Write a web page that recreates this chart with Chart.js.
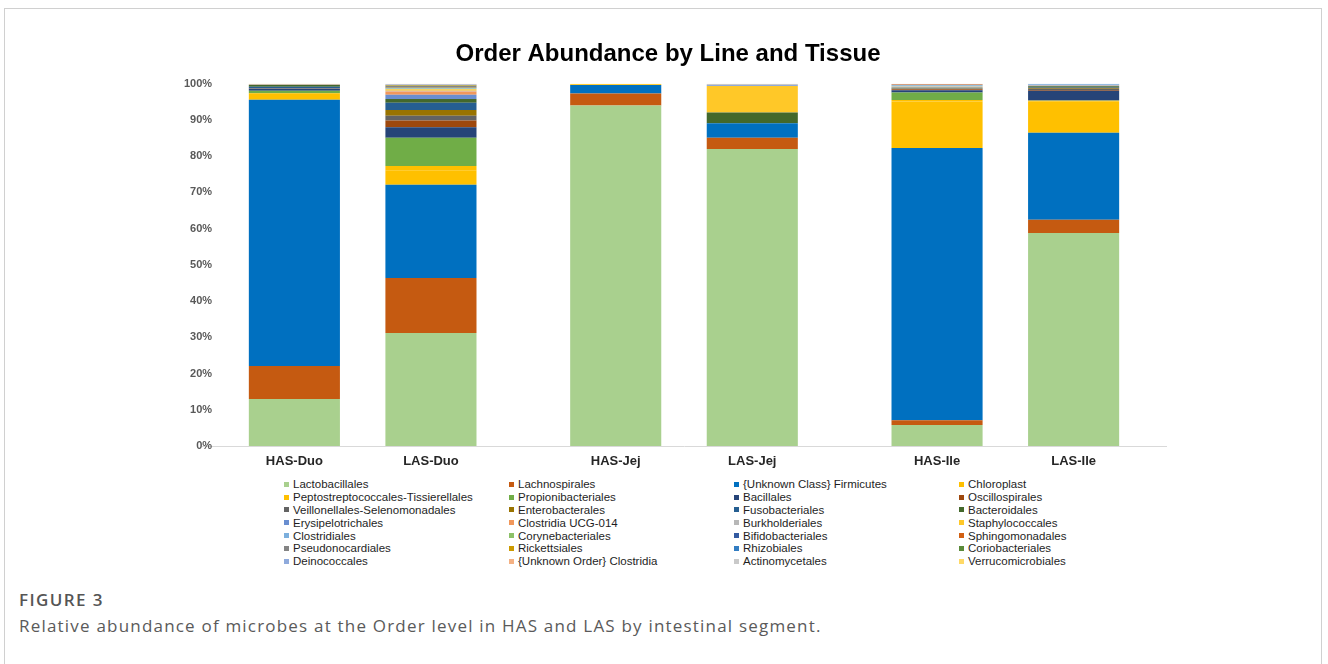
<!DOCTYPE html>
<html>
<head>
<meta charset="utf-8">
<title>Order Abundance by Line and Tissue</title>
<script src="https://cdn.jsdelivr.net/npm/chart.js@4.4.1/dist/chart.umd.min.js"></script>
<style>
    body { margin: 0; background: #fff; font-family: "Liberation Sans", Arial, sans-serif; }
    #marco { position: absolute; left: 4px; top: 8px; width: 1316px; height: 700px; border: 1px solid #d0d0d0; }
    #grafico { position: absolute; left: 0; top: 0; width: 1328px; height: 476px; }
    #leyenda { position: absolute; left: 284px; top: 478px; display: grid; grid-template-columns: repeat(4, 225px); }
    .item { height: 12.8px; font-size: 11.5px; color: #1e1e1e; white-space: nowrap; display: flex; align-items: center; }
    .caja { width: 5px; height: 5px; margin-right: 4px; flex: none; }
    #figura { position: absolute; left: 19px; top: 588px; font-family: "Open Sans", sans-serif; font-weight: 600; font-size: 17px; letter-spacing: 1.4px; color: #555; }
    #pie { position: absolute; left: 19px; top: 614px; font-family: "Open Sans", sans-serif; font-size: 17px; letter-spacing: 1.2px; color: #5a5a5a; }
</style>
</head>
<body>
<div id="marco"></div>
<div id="grafico"><canvas id="ordenChart"></canvas></div>
<div id="leyenda"></div>
<div id="figura">FIGURE 3</div>
<div id="pie">Relative abundance of microbes at the Order level in HAS and LAS by intestinal segment.</div>
<script>
// Ordenes (series), de abajo hacia arriba en cada barra
const ordenes = [
    "Lactobacillales", "Lachnospirales", "{Unknown Class} Firmicutes", "Chloroplast",
    "Peptostreptococcales-Tissierellales", "Propionibacteriales", "Bacillales", "Oscillospirales",
    "Veillonellales-Selenomonadales", "Enterobacterales", "Fusobacteriales", "Bacteroidales",
    "Erysipelotrichales", "Clostridia UCG-014", "Burkholderiales", "Staphylococcales",
    "Clostridiales", "Corynebacteriales", "Bifidobacteriales", "Sphingomonadales",
    "Pseudonocardiales", "Rickettsiales", "Rhizobiales", "Coriobacteriales",
    "Deinococcales", "{Unknown Order} Clostridia", "Actinomycetales", "Verrucomicrobiales"
];
const colores = [
    "#A9D08E", "#C55A11", "#0070C0", "#FFC000",
    "#FFC000", "#70AD47", "#264478", "#9E480E",
    "#636363", "#997300", "#255E91", "#43682B",
    "#698ED0", "#F1975A", "#B7B7B7", "#FFC828",
    "#7CAFDD", "#8CC168", "#335AA1", "#D26012",
    "#848484", "#CC9A00", "#327DC2", "#5A8A39",
    "#8FAADC", "#F4B183", "#C9C9C9", "#FFD966"
];

const lineas = ["HAS", "LAS"];
const segmentos = ["Duo", "Jej", "Ile"];

// Abundancia relativa (%) por barra, mismo orden que `ordenes`
const hasDuo = [13.0, 9.1, 73.5, 1.3, 0.5, 0.7, 0.55, 0.05, 0.05, 0.05, 0.4, 0.5, 0.05, 0.05, 0.05, 0.1, 0, 0, 0, 0, 0, 0, 0, 0, 0, 0, 0, 0.05];
const lasDuo = [31.2, 15.2, 25.7, 4.0, 1.2, 7.8, 2.9, 1.9, 1.3, 1.6, 2.0, 1.0, 1.2, 0.9, 0.2, 0.4, 0.2, 0.2, 0.1, 0.1, 0.3, 0.1, 0.1, 0.1, 0.1, 0.1, 0.05, 0.05];
const hasJej = [94.0, 3.3, 2.4, 0.2, 0, 0, 0, 0, 0, 0, 0, 0, 0, 0, 0, 0.05, 0, 0, 0, 0, 0, 0, 0, 0, 0, 0, 0, 0.05];
const lasJej = [82.0, 3.1, 4.0, 0, 0, 0, 0, 0, 0, 0, 0, 3.0, 0, 0, 0, 7.3, 0, 0, 0, 0, 0, 0, 0, 0, 0.3, 0, 0.3, 0];
const hasIle = [5.8, 1.3, 75.2, 12.8, 0.4, 2.1, 0.6, 0.3, 0.1, 0.1, 0.1, 0.1, 0.1, 0.05, 0.2, 0.05, 0.3, 0.05, 0, 0.15, 0, 0, 0, 0, 0.1, 0, 0.1, 0];
const lasIle = [58.8, 3.7, 24.0, 8.7, 0.1, 0.1, 2.7, 0.2, 0.3, 0.3, 0.2, 0.2, 0.15, 0.05, 0.15, 0.05, 0.15, 0.05, 0, 0, 0, 0, 0, 0, 0.1, 0, 0, 0];

const fuente = '"Liberation Sans", Arial, sans-serif';

// Cada orden genera dos datasets: uno en la pila HAS y otro en la pila LAS
const datasets = [];
ordenes.forEach((orden, i) => {
    datasets.push({ label: orden, stack: "HAS", data: [hasDuo[i], hasJej[i], hasIle[i]], backgroundColor: colores[i] });
    datasets.push({ label: orden, stack: "LAS", data: [lasDuo[i], lasJej[i], lasIle[i]], backgroundColor: colores[i] });
});

// Etiquetas debajo de cada barra (HAS-Duo, LAS-Duo, ...)
const etiquetasBarras = {
    id: "etiquetasBarras",
    afterDatasetsDraw(chart) {
        const ctx = chart.ctx;
        ctx.save();
        ctx.font = "bold 13px " + fuente;
        ctx.fillStyle = "#262626";
        ctx.textAlign = "center";
        ctx.textBaseline = "middle";
        lineas.forEach((linea, j) => {
            chart.getDatasetMeta(j).data.forEach((barra, i) => {
                ctx.fillText(`${linea}-${segmentos[i]}`, barra.x, chart.chartArea.bottom + 15);
            });
        });
        ctx.restore();
    }
};

new Chart(document.getElementById("ordenChart").getContext("2d"), {
    type: "bar",
    data: { labels: segmentos, datasets },
    options: {
        responsive: true,
        maintainAspectRatio: false,
        animation: false,
        layout: { padding: { left: 170, right: 162, top: 0, bottom: 0 } },
        datasets: { bar: { categoryPercentage: 0.85, barPercentage: 0.667 } },
        scales: {
            x: {
                stacked: true,
                ticks: { display: false },
                grid: { display: false, drawTicks: false },
                border: { color: "#d9d9d9" },
                afterFit(scale) { scale.height = 30; }
            },
            y: {
                stacked: true,
                min: 0,
                max: 100,
                ticks: {
                    stepSize: 10,
                    mirror: true,      // evita el recorte de las etiquetas
                    crossAlign: "far",
                    padding: -18,
                    color: "#595959",
                    font: { size: 11, weight: "bold", family: fuente },
                    callback: v => v + "%"
                },
                grid: { display: false, drawTicks: false },
                border: { display: false },
                afterFit(scale) { scale.width = 32; }
            }
        },
        plugins: {
            legend: { display: false },
            tooltip: { enabled: false },
            title: {
                display: true,
                text: "Order Abundance by Line and Tissue",
                color: "#000",
                font: { size: 24, weight: "bold", family: fuente, lineHeight: 1.2 },
                padding: { top: 40, bottom: 15 }
            }
        }
    },
    plugins: [etiquetasBarras]
});

// Leyenda en 4 columnas, construida con los mismos arreglos
const leyenda = document.getElementById("leyenda");
ordenes.forEach((orden, i) => {
    const item = document.createElement("div");
    item.className = "item";
    item.innerHTML = `<span class="caja" style="background:${colores[i]}"></span>${orden}`;
    leyenda.appendChild(item);
});
</script>
</body>
</html>
